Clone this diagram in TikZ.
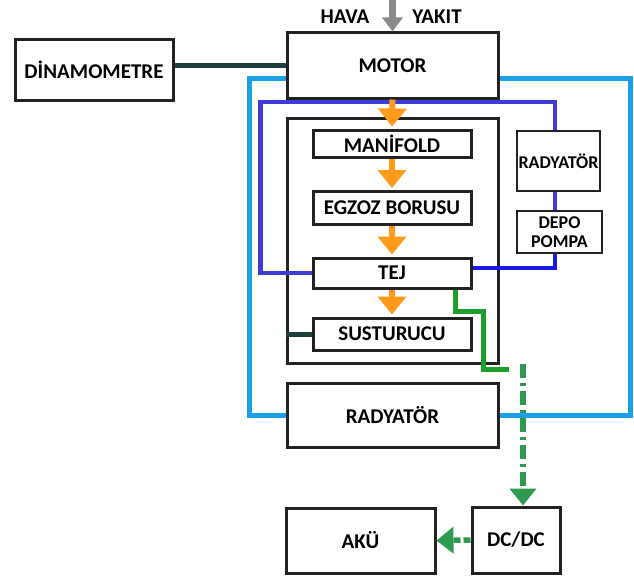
\documentclass[tikz,border=0pt]{standalone}
\usepackage{fontspec}
\setmainfont{Carlito}
\usepackage{xcolor}
\usetikzlibrary{arrows.meta,positioning,calc}
\definecolor{frame}{HTML}{222222}
\definecolor{shaft}{HTML}{1F3F3C}
\definecolor{cool}{HTML}{1AA0E8}
\definecolor{loop}{HTML}{3D3DD6}
\definecolor{loopdeep}{HTML}{1A1AE6}
\definecolor{gas}{HTML}{FF9A1A}
\definecolor{teg}{HTML}{1E9E2A}
\definecolor{elec}{HTML}{2E9A50}
\definecolor{intake}{HTML}{8A8A8A}
\tikzset{
  mbox/.style={draw=frame,fill=white,line width=3pt,align=center,inner sep=2pt},
  sbox/.style={draw=frame,fill=white,line width=2.6pt,align=center,inner sep=1pt,font=\fontsize{18}{19}\selectfont\bfseries},
  garr/.style={-{Triangle[width=28pt,length=18pt]},line width=6pt,draw=gas,shorten >=2pt},
  iarr/.style={-{Triangle[width=20pt,length=14pt]},line width=7pt,draw=intake},
  clink/.style={line width=5pt,draw=cool},
  blink/.style={line width=4.5pt,draw=loop},
  slink/.style={line width=5pt,draw=shaft},
  tlink/.style={line width=5.5pt,draw=teg},
  earr/.style={-{Triangle[width=26pt,length=17pt]},line width=5.5pt,draw=elec}
}
\begin{document}
\begin{tikzpicture}[x=1pt,y=-1pt,font=\fontsize{21}{23}\selectfont\bfseries]
  \useasboundingbox (0,0) rectangle (634,578);
  % boxes
  \node[mbox,minimum width=211pt,minimum height=65pt] (motor) at (392.5,65.5) {MOTOR};
  \node[mbox,minimum width=158pt,minimum height=60pt] (dyno) at (94,70) {DİNAMOMETRE};
  \node[mbox,minimum width=211pt,minimum height=245pt] (exh) at (392.5,240.5) {};
  \node[mbox,minimum width=158pt,minimum height=27pt] (mani) at (392,143.5) {MANİFOLD};
  \node[mbox,minimum width=158pt,minimum height=33pt] (egz) at (392,208) {EGZOZ BORUSU};
  \node[mbox,minimum width=158pt,minimum height=30pt] (tej) at (392,273) {TEJ};
  \node[mbox,minimum width=158pt,minimum height=32pt] (sus) at (392,334) {SUSTURUCU};
  \node[sbox,minimum width=83pt,minimum height=60pt] (rads) at (558.5,161) {RADYATÖR};
  \node[sbox,minimum width=85pt,minimum height=42pt] (depo) at (559.5,232) {DEPO\\POMPA};
  \node[mbox,minimum width=211pt,minimum height=64pt] (radb) at (392.5,415) {RADYATÖR};
  \node[mbox,minimum width=88pt,minimum height=66pt] (dcdc) at (516,540) {DC/DC};
  \node[mbox,minimum width=149pt,minimum height=65pt] (aku) at (360.5,540.5) {AKÜ};
  \node (hava) at (345,17) {HAVA};
  \node (yakit) at (437,17) {YAKIT};
  \coordinate (top) at (392.5,0);
  \coordinate (gsplit) at (523,364);
  % links
  \draw[slink] (motor.west) -- (motor.west -| dyno.east);
  \draw[slink] (sus.west) -- (sus.west -| exh.west);
  \draw[clink] ([yshift=-12.5pt]motor.west) -- ++(-36,0) |- (radb.west);
  \draw[clink] ([yshift=-12.5pt]motor.east) -- ++(131,0) |- (radb.east);
  \draw[blink] (tej.west) -- ++(-51,0) -- ++(0,-171) -| ([xshift=-3.5pt]rads.north);
  \draw[blink] ([xshift=-3.5pt]rads.south) -- ([xshift=-4.5pt]depo.north);
  \draw[blink,draw=loopdeep] ([xshift=-4.5pt]depo.south) |- ([yshift=5pt]tej.east);
  \draw[tlink] ([xshift=-17pt]tej.south east) -- ++(0,22) -- ++(28,0) -- ++(0,58) -- ++(25,0);
  \draw[earr,dash pattern=on 14pt off 5pt on 3pt off 5pt] (gsplit) -- ([xshift=7pt]dcdc.north);
  \draw[earr,dash pattern=on 7pt off 3pt] (dcdc.west) -- (aku.east);
  % flow
  \draw[iarr] (top) -- (motor.north);
  \draw[garr] (motor.south) -- (mani.north);
  \draw[garr] (mani.south) -- (egz.north);
  \draw[garr] (egz.south) -- (tej.north);
  \draw[garr] (tej.south) -- (sus.north);
\end{tikzpicture}
\end{document}
